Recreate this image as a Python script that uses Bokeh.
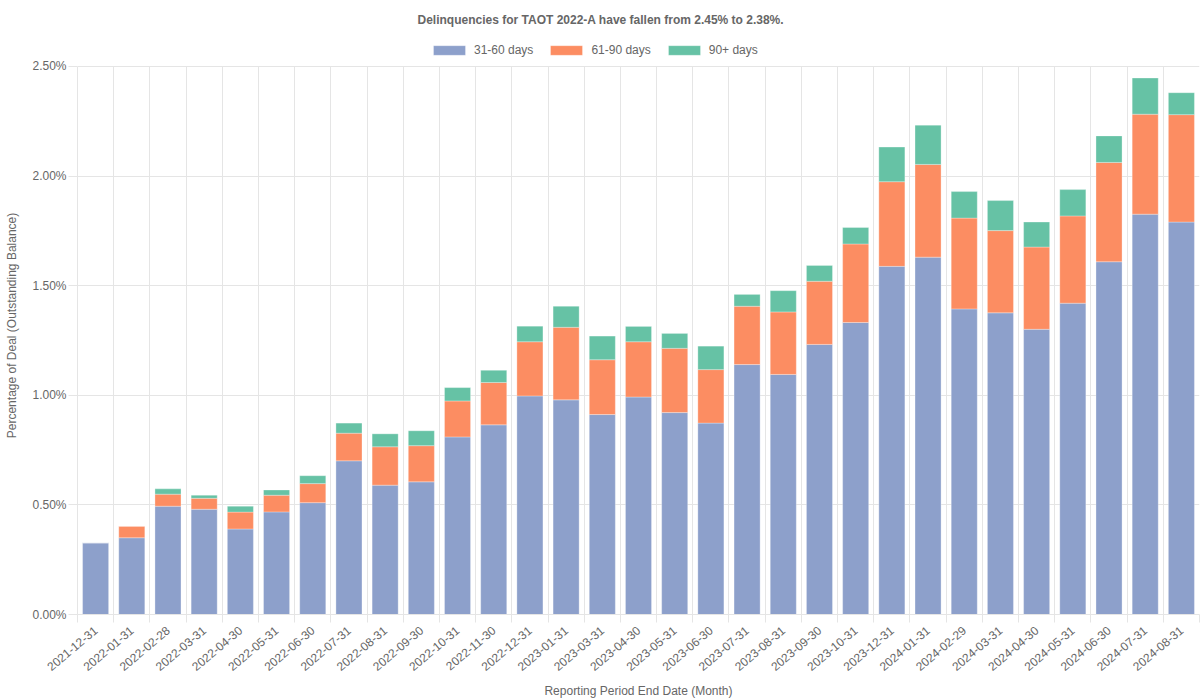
from bokeh.plotting import figure
from bokeh.models import (ColumnDataSource, Range1d, FixedTicker, PrintfTickFormatter,
                          Legend)
from bokeh.embed import file_html
from bokeh.resources import INLINE

dates = ["2021-12-31", "2022-01-31", "2022-02-28", "2022-03-31", "2022-04-30", "2022-05-31",
         "2022-06-30", "2022-07-31", "2022-08-31", "2022-09-30", "2022-10-31", "2022-11-30",
         "2022-12-31", "2023-01-31", "2023-03-31", "2023-04-30", "2023-05-31", "2023-06-30",
         "2023-07-31", "2023-08-31", "2023-09-30", "2023-10-31", "2023-12-31", "2024-01-31",
         "2024-02-29", "2024-03-31", "2024-04-30", "2024-05-31", "2024-06-30", "2024-07-31",
         "2024-08-31"]
d31_60 = [0.327, 0.350, 0.494, 0.480, 0.390, 0.468, 0.510, 0.701, 0.590, 0.605, 0.810, 0.865,
          0.997, 0.979, 0.912, 0.992, 0.921, 0.873, 1.140, 1.095, 1.232, 1.332, 1.588, 1.630,
          1.394, 1.376, 1.301, 1.420, 1.609, 1.826, 1.790]
d61_90 = [0.000, 0.053, 0.055, 0.050, 0.077, 0.076, 0.087, 0.126, 0.175, 0.165, 0.164, 0.193,
          0.247, 0.331, 0.250, 0.252, 0.293, 0.244, 0.266, 0.285, 0.288, 0.358, 0.386, 0.423,
          0.414, 0.375, 0.375, 0.398, 0.453, 0.456, 0.490]
d90p = [0.000, 0.000, 0.024, 0.014, 0.027, 0.024, 0.036, 0.046, 0.059, 0.068, 0.061, 0.056,
        0.071, 0.096, 0.108, 0.070, 0.068, 0.107, 0.054, 0.097, 0.072, 0.075, 0.158, 0.179,
        0.121, 0.137, 0.114, 0.120, 0.121, 0.165, 0.100]
series = ["31-60 days", "61-90 days", "90+ days"]
colors = ["#8da0cb", "#fc8d62", "#66c2a5"]
title_text = "Delinquencies for TAOT 2022-A have fallen from 2.45% to 2.38%."
y_ticks = [0, 0.5, 1.0, 1.5, 2.0, 2.5]

n = len(dates)
xs = [i + 0.5 for i in range(n)]
src = ColumnDataSource(dict(x=xs, a=d31_60, b=d61_90, c=d90p))

FONT = "Liberation Sans"
TXT = "#666666"
GRID = "#e5e5e5"

ymax = y_ticks[-1]
p = figure(width=1200, height=700, output_backend="svg", toolbar_location=None,
           x_range=Range1d(0, n), y_range=Range1d(0, ymax + 30 / 220),
           min_border_left=77, min_border_right=1, min_border_top=36, min_border_bottom=84,
           title=title_text)
p.outline_line_color = None
p.background_fill_color = "white"
p.title.align = "left"
p.title.offset = 340
p.title.standoff = 19
p.title.text_font = FONT
p.title.text_font_size = "12px"
p.title.text_font_style = "bold"
p.title.text_color = TXT

rs = p.vbar_stack(["a", "b", "c"], x="x", width=0.72, source=src, color=colors,
                  line_color="white", line_width=0.5, line_alpha=0.6)

legend = Legend(items=[(s, [r]) for s, r in zip(series, rs)], orientation="horizontal",
                location=(352, 557), glyph_width=40, glyph_height=12,
                label_text_font=FONT, label_text_font_size="12px", label_text_color=TXT,
                border_line_color=None, background_fill_alpha=0, spacing=13,
                label_standoff=5, padding=0, margin=0, label_height=12)
p.add_layout(legend)

# x axis
xa = p.xaxis[0]
xa.ticker = FixedTicker(ticks=xs, minor_ticks=list(range(n + 1)))
xa.major_label_overrides = {x: d for x, d in zip(xs, dates)}
xa.major_label_orientation = 0.70
xa.major_tick_line_color = None
xa.minor_tick_in = 0
xa.minor_tick_out = 8
xa.minor_tick_line_color = GRID
xa.axis_line_color = GRID
xa.major_label_text_font = FONT
xa.major_label_text_font_size = "12px"
xa.major_label_text_color = TXT
xa.major_label_standoff = 6
xa.axis_label = "Reporting Period End Date (Month)"
xa.axis_label_text_font = FONT
xa.axis_label_text_font_size = "12px"
xa.axis_label_text_font_style = "normal"
xa.axis_label_text_color = TXT
xa.axis_label_standoff = 6

# y axis
ya = p.yaxis[0]
ya.ticker = FixedTicker(ticks=y_ticks)
ya.bounds = (0, ymax)
ya.formatter = PrintfTickFormatter(format="%.2f%%")
ya.minor_tick_line_color = None
ya.major_tick_in = 0
ya.major_tick_out = 9
ya.major_tick_line_color = GRID
ya.axis_line_color = GRID
ya.major_label_text_font = FONT
ya.major_label_text_font_size = "12px"
ya.major_label_text_color = TXT
ya.major_label_standoff = 2
ya.axis_label = "Percentage of Deal (Outstanding Balance)"
ya.axis_label_text_font = FONT
ya.axis_label_text_font_size = "12px"
ya.axis_label_text_font_style = "normal"
ya.axis_label_text_color = TXT
ya.axis_label_standoff = 10

p.xgrid.ticker = FixedTicker(ticks=list(range(n + 1)))
p.xgrid.cross_bounds = (0, ymax)
p.xgrid.grid_line_color = GRID
p.ygrid.grid_line_color = GRID

open("out.html", "w").write(file_html(p, INLINE))
